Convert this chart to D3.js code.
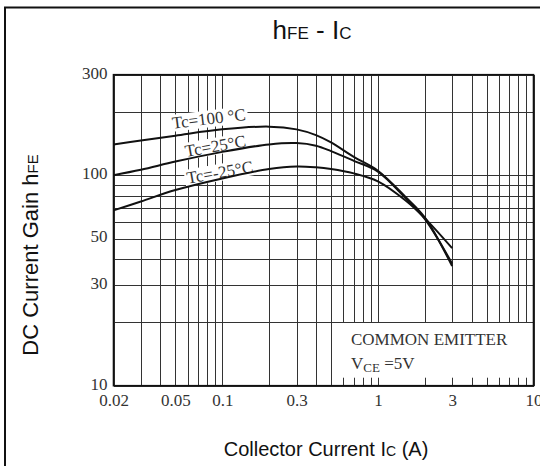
<!DOCTYPE html>
<html>
<head>
<meta charset="utf-8">
<script src="https://cdn.jsdelivr.net/npm/d3@7"></script>
<style>
  body { margin: 0; background: #fff; }
  svg { display: block; }
</style>
</head>
<body>
<svg id="chart" width="540" height="466"></svg>
<script>
// ---------- data ----------
const currents = [0.02, 0.03, 0.05, 0.1, 0.2, 0.3, 0.4, 0.5, 0.7, 1, 1.5, 2, 3];
const gainTc100 = [140, 146, 154, 165, 170, 165, 155, 143, 122, 105, 79, 63, 37];
const gainTc25 = [100, 106, 116, 129, 140, 142, 138, 130, 117, 104, 78, 62, 38];
const gainTcM25 = [68, 75, 85, 96.5, 107, 110, 109, 107, 102, 93.5, 76, 62.5, 45];
const seriesNames = ["Tc=100 \u00B0C", "Tc=25\u00B0C", "Tc=-25\u00B0C"];
const labelCurrents = [0.048, 0.0585, 0.060];
const labelGains = [166, 122, 91];
const xTickValues = [0.02, 0.05, 0.1, 0.3, 1, 3, 10];
const xTickLabels = ["0.02", "0.05", "0.1", "0.3", "1", "3", "10"];
const yTickValues = [10, 30, 50, 100, 300];
const yTickLabels = ["10", "30", "50", "100", "300"];
const noteLines = ["COMMON EMITTER"];

// ---------- layout ----------
const svg = d3.select("#chart");
const L = 113.5, R = 533.5, T = 74.7, B = 385.7;
const x = d3.scaleLog().domain([0.02, 10]).range([L, R]);
const y = d3.scaleLog().domain([10, 300]).range([B, T]);

svg.append("rect").attr("width", 540).attr("height", 466).attr("fill", "#fff");

// outer frame
svg.append("path").attr("d", "M5,470V7.5H545")
  .attr("fill", "none").attr("stroke", "#111").attr("stroke-width", 2);

// title
const title = svg.append("text").attr("x", 312).attr("y", 39)
  .attr("text-anchor", "middle")
  .attr("font-family", "Liberation Sans, Arial, sans-serif")
  .attr("font-size", 26).attr("fill", "#111");
title.append("tspan").text("h");
title.append("tspan").attr("font-size", 17).text("FE");
title.append("tspan").text(" - I");
title.append("tspan").attr("font-size", 17).text("C");

// grid
const grid = svg.append("g").attr("stroke", "#333").attr("stroke-width", 1).attr("shape-rendering", "crispEdges");
grid.selectAll("line.v").data(x.ticks()).join("line")
  .attr("x1", d => Math.round(x(d)) + 0.5).attr("x2", d => Math.round(x(d)) + 0.5)
  .attr("y1", T).attr("y2", B);
grid.selectAll("line.h").data(y.ticks()).join("line")
  .attr("y1", d => Math.round(y(d)) + 0.5).attr("y2", d => Math.round(y(d)) + 0.5)
  .attr("x1", L).attr("x2", R);

// note box (covers grid)
const bx0 = Math.round(x(0.5)) + 1, by0 = Math.round(y(20)) + 1;
svg.append("rect").attr("x", bx0).attr("y", by0)
  .attr("width", x(10) - 1.5 - bx0).attr("height", y(10) - 8 - by0)
  .attr("fill", "#fff");
const note = svg.append("g").attr("font-family", "Liberation Serif, Times New Roman, serif")
  .attr("fill", "#333").attr("font-size", 17);
note.append("text").attr("x", bx0 + 19).attr("y", by0 + 22).text(noteLines[0]);
const vce = note.append("text").attr("x", bx0 + 19).attr("y", by0 + 46);
vce.append("tspan").text("V");
vce.append("tspan").attr("font-size", 13).attr("dy", 3).text("CE");
vce.append("tspan").attr("dy", -3).text(" =5V");

// curve labels with white backgrounds
const angles = [-7, -10, -10];
seriesNames.forEach((name, i) => {
  const g = svg.append("g")
    .attr("transform", `translate(${x(labelCurrents[i])},${y(labelGains[i])}) rotate(${angles[i]})`);
  const bg = g.append("rect").attr("fill", "#fff");
  const t = g.append("text").attr("font-family", "Liberation Serif, Times New Roman, serif")
    .attr("font-size", 17).attr("fill", "#333").text(name);
  const bb = t.node().getBBox();
  bg.attr("x", bb.x - 2).attr("y", bb.y + 1).attr("width", bb.width + 4).attr("height", bb.height - 2);
});

// curves
const line = d3.line().x(d => x(d[0])).y(d => y(d[1])).curve(d3.curveCatmullRom.alpha(0.5));
[gainTc100, gainTc25, gainTcM25].forEach(series => {
  svg.append("path").datum(currents.map((c, i) => [c, series[i]]))
    .attr("d", line).attr("fill", "none").attr("stroke", "#111").attr("stroke-width", 2);
});

// plot frame
svg.append("rect").attr("x", L).attr("y", T).attr("width", R - L).attr("height", B - T)
  .attr("fill", "none").attr("stroke", "#111").attr("stroke-width", 1.6);

// axes (labels only)
const xAxis = d3.axisBottom(x).tickValues(xTickValues).tickFormat((d, i) => xTickLabels[i])
  .tickSize(0).tickPadding(8);
const gx = svg.append("g").attr("transform", `translate(0,${B})`).call(xAxis);
const yAxis = d3.axisLeft(y).tickValues(yTickValues).tickFormat((d, i) => yTickLabels[i])
  .tickSize(0).tickPadding(6);
const gy = svg.append("g").attr("transform", `translate(${L},0)`).call(yAxis);
[gx, gy].forEach(g => {
  g.select(".domain").remove();
  g.selectAll("text").attr("font-family", "Liberation Serif, Times New Roman, serif")
    .attr("font-size", 17).attr("fill", "#333");
});
gy.selectAll("text").attr("dy", "0.2em");

// axis titles
const xl = svg.append("text").attr("x", 326).attr("y", 456).attr("text-anchor", "middle")
  .attr("font-family", "Liberation Sans, Arial, sans-serif").attr("font-size", 20).attr("fill", "#111");
xl.append("tspan").text("Collector Current I");
xl.append("tspan").attr("font-size", 14).text("C");
xl.append("tspan").text(" (A)");

const yl = svg.append("text").attr("transform", "translate(38,255) rotate(-90)")
  .attr("text-anchor", "middle")
  .attr("font-family", "Liberation Sans, Arial, sans-serif").attr("font-size", 22).attr("fill", "#111");
yl.append("tspan").text("DC Current Gain h");
yl.append("tspan").attr("font-size", 15).text("FE");
</script>
</body>
</html>
